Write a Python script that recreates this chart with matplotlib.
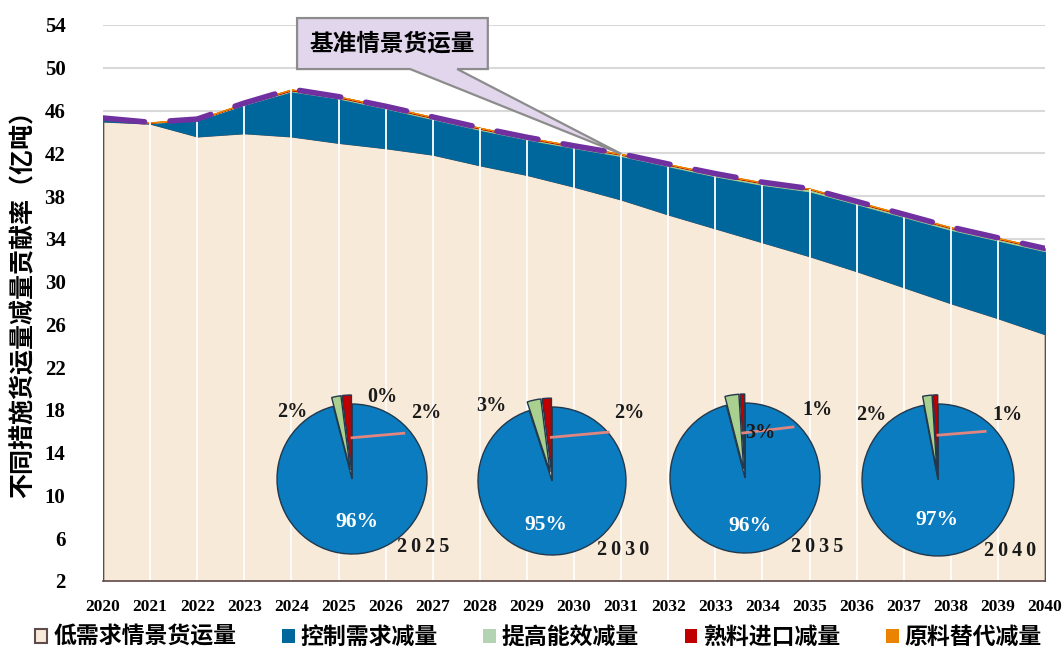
import matplotlib
matplotlib.use('Agg')
import matplotlib.pyplot as plt
from matplotlib.patches import Polygon, Patch
from matplotlib.font_manager import FontProperties
import numpy as np

# 货运量（亿吨）
years = list(range(2020, 2041))
low_demand = [45.0, 44.8, 43.6, 43.9, 43.6, 43.0, 42.5, 41.9, 40.9, 40.0, 38.9,
              37.7, 36.3, 35.0, 33.7, 32.4, 31.0, 29.5, 28.0, 26.6, 25.1]
control = [0.2, 0.05, 1.5, 2.65, 4.2, 4.13, 3.7, 3.3, 3.3, 3.3, 3.6,
           4.05, 4.5, 4.85, 5.35, 6.05, 6.25, 6.55, 6.85, 7.25, 7.75]
efficiency = [0.02, 0.02, 0.03, 0.05, 0.08, 0.09, 0.1, 0.1, 0.1, 0.1, 0.11,
              0.12, 0.12, 0.14, 0.15, 0.19, 0.15, 0.15, 0.15, 0.15, 0.16]
clinker = [0.02, 0.02, 0.03, 0.05, 0.08, 0.09, 0.08, 0.08, 0.08, 0.07, 0.08,
           0.06, 0.06, 0.06, 0.06, 0.06, 0.06, 0.06, 0.06, 0.06, 0.08]
substitution = [0.02, 0.02, 0.02, 0.03, 0.03, 0.0, 0.02, 0.02, 0.02, 0.03, 0.01,
                0.02, 0.02, 0.05, 0.04, 0.0, 0.04, 0.04, 0.04, 0.04, 0.01]
baseline = [45.3, 44.9, 45.2, 46.7, 48.0, 47.3, 46.4, 45.4, 44.4, 43.5, 42.7,
            41.95, 41.0, 40.1, 39.3, 38.7, 37.5, 36.3, 35.1, 34.1, 33.1]

series_names = ['低需求情景货运量', '控制需求减量', '提高能效减量', '熟料进口减量', '原料替代减量']
series_colors = ['#F7EAD8', '#00679C', '#A9D08E', '#C00000', '#E98300']

# 各年份减量贡献占比（%）：控制需求、提高能效、熟料进口、原料替代
pie_years = ['2025', '2030', '2035', '2040']
share_control = [96, 95, 96, 97]
share_efficiency = [2, 3, 3, 2]
share_clinker = [2, 2, 1, 1]
share_substitution = [0, 0, 0, 0]

cjk = 'Noto Sans CJK SC'
serif = 'Liberation Serif'

W, H = 1064, 653
fig = plt.figure(figsize=(W / 100, H / 100), dpi=100)
ax = fig.add_axes([103 / W, 1 - 581 / H, 942 / W, 556 / H])

stack = np.vstack([low_demand, control, efficiency, clinker, substitution])
tops = np.cumsum(stack, axis=0)
bottoms = np.vstack([np.zeros(len(years)), tops[:-1]])

for i in range(len(series_names)):
    if i == 0:
        ax.fill_between(years, bottoms[i], tops[i], facecolor=series_colors[i],
                        edgecolor='#5F4B4B', linewidth=1.2, zorder=1)
    else:
        ax.fill_between(years, bottoms[i], tops[i], facecolor=series_colors[i],
                        edgecolor=series_colors[i], linewidth=0.8, zorder=1)

# 面积内的竖向白线
ax.vlines(years[1:-1], 2, tops[-1][1:-1], color='white', linewidth=1.3, zorder=2)

ax.plot(years, baseline, color='#7030A0', linewidth=4, dashes=(7.5, 4.6),
        dash_capstyle='round', zorder=4)

ax.set_xlim(2020, 2040)
ax.set_ylim(2, 54)
ax.set_xticks(years)
ax.set_xticklabels([str(y) for y in years], fontfamily=serif, fontweight='bold', fontsize=12.5)
ax.set_yticks(range(2, 55, 4))
ax.set_yticklabels([str(v) for v in range(2, 55, 4)], fontfamily=serif, fontweight='bold', fontsize=15)
ax.tick_params(axis='y', length=0, pad=27)
ax.tick_params(axis='x', length=0, pad=13)
ax.grid(axis='y', color='#D9D9D9', linewidth=1.5)
ax.set_axisbelow(True)
for s in ['top', 'right', 'left']:
    ax.spines[s].set_visible(False)
ax.spines['bottom'].set_color('#5F4B4B')
ax.spines['bottom'].set_linewidth(1.2)

fig.text(23 / W, 1 - 298 / H, '不同措施货运量减量贡献率（亿吨）', rotation=90,
         ha='center', va='center', fontfamily=cjk, fontweight='bold', fontsize=18)

# 基准情景标注框
x0, x1 = 2024.12, 2028.17
yb, yt = 49.88, 54.65
callout = Polygon([(x0, yt), (x1, yt), (x1, yb), (2027.52, yb), (2031, baseline[11]),
                   (2026.52, yb), (x0, yb)], closed=True, facecolor='#E2D6EC',
                  edgecolor='#8C8C8C', linewidth=1.6, clip_on=False, zorder=6)
ax.add_patch(callout)
ax.text((x0 + x1) / 2, (yb + yt) / 2, '基准情景货运量', ha='center', va='center',
        fontfamily=cjk, fontweight='bold', fontsize=17, zorder=7, clip_on=False)

# 图例
handles = [Patch(facecolor=series_colors[0], edgecolor='#5F4B4B', linewidth=1.5)]
handles += [Patch(facecolor=c, edgecolor='none') for c in series_colors[1:]]
handles[2] = Patch(facecolor='#B4D3B2', edgecolor='none')
fig.legend(handles, series_names, loc='center', bbox_to_anchor=(0.506, 0.024), ncol=5,
           frameon=False, prop=FontProperties(family=cjk, weight='bold', size=16.5),
           handlelength=0.55, handleheight=0.55, handletextpad=0.25, columnspacing=2.0,
           borderpad=0)

# 饼图
pie_centers = [(352, 479, 75), (552, 481, 74), (745, 478, 75), (938, 480, 76)]
pie_colors = ['#0B7CBF', '#A9D08E', '#C00000', '#E98300']
label_pos = [
    {1: (-0.80, 0.89), 3: (0.41, 1.09), 2: (0.99, 0.88)},
    {1: (-0.82, 1.01), 2: (1.05, 0.92)},
    {1: (0.20, 0.60), 2: (0.96, 0.91)},
    {1: (-0.88, 0.86), 2: (0.91, 0.86)},
]
main_pos = [(0.07, -0.57), (-0.09, -0.59), (0.07, -0.64), (-0.01, -0.53)]
year_pos = [(0.95, -0.91), (0.96, -0.93), (0.96, -0.92), (0.95, -0.93)]
leaders = [((0.0, 0.55), (0.69, 0.61)), ((-0.01, 0.59), (0.76, 0.66)),
           ((-0.03, 0.60), (0.64, 0.68)), ((0.0, 0.59), (0.62, 0.64))]

lim = 1.3
for k, (cx, cy, r) in enumerate(pie_centers):
    side = 2 * lim * r
    pax = fig.add_axes([(cx - lim * r) / W, 1 - (cy + lim * r) / H, side / W, side / H])
    vals = [share_control[k], share_efficiency[k], share_clinker[k], share_substitution[k]]
    pax.pie(vals, colors=pie_colors, startangle=90, counterclock=False,
            explode=[0, 0.12, 0.12, 0],
            wedgeprops=dict(edgecolor='#22384C', linewidth=1.0))
    pax.set_xlim(-lim, lim)
    pax.set_ylim(-lim, lim)
    pax.set_aspect('equal')
    pax.axis('off')
    (lx0, ly0), (lx1, ly1) = leaders[k]
    pax.plot([lx0, lx1], [ly0, ly1], color='#E0857F', linewidth=2)
    for idx, (tx, ty) in label_pos[k].items():
        pax.text(tx, ty, f'{vals[idx]}%', ha='center', va='center', fontfamily=serif,
                 fontweight='bold', fontsize=14.5, color='#1A1A1A')
    mx, my = main_pos[k]
    pax.text(mx, my, f'{vals[0]}%', ha='center', va='center', fontfamily=serif,
             fontweight='bold', fontsize=15.5, color='white')
    yx, yy = year_pos[k]
    pax.text(yx, yy, '\u2009'.join(pie_years[k]), ha='center', va='center', fontfamily=serif,
             fontweight='bold', fontsize=14.5, color='#1A1A1A')

fig.savefig('out.png', dpi=100)
